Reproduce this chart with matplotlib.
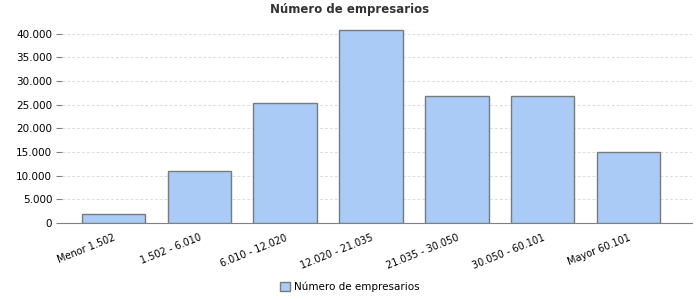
import matplotlib
import matplotlib.pyplot as plt
from matplotlib.ticker import FuncFormatter

matplotlib.use("Agg")

categories = [
    "Menor 1.502",
    "1.502 - 6.010",
    "6.010 - 12.020",
    "12.020 - 21.035",
    "21.035 - 30.050",
    "30.050 - 60.101",
    "Mayor 60.101",
]
empresarios = [1900, 10950, 25450, 40850, 26750, 26950, 14950]
series_name = "Número de empresarios"
title = "Número de empresarios"


def _miles(v, _pos):
    return f"{int(v):,}".replace(",", ".")


fig = plt.figure(figsize=(7, 3), dpi=100)
ax = fig.add_axes([0.0886, 0.257, 0.9, 0.668])

x = range(len(categories))
ax.bar(x, empresarios, width=0.74, color="#a9cbf5", edgecolor="#7a7a7a",
       linewidth=1.0, label=series_name, zorder=3)

ax.set_xlim(-0.6, 6.74)
ax.set_ylim(0, 42400)
ax.set_yticks(range(0, 40001, 5000))
ax.yaxis.set_major_formatter(FuncFormatter(_miles))
ax.set_xticks(list(x))
ax.set_xticklabels(categories, rotation=22, ha="right",
                   rotation_mode="anchor", fontsize=7)
ax.tick_params(axis="x", length=0, pad=7)
ax.tick_params(axis="y", length=4, color="#808080", labelsize=7.5,
               pad=3)

ax.grid(axis="y", color="#dddddd", linestyle=(0, (3, 2)), linewidth=0.7,
        zorder=0)
for side in ("top", "right", "left"):
    ax.spines[side].set_visible(False)
ax.spines["bottom"].set_color("#808080")

fig.suptitle(title, y=0.99, fontsize=8.5, fontweight="bold", color="#333333")
fig.legend(loc="center", bbox_to_anchor=(0.5, 0.043), frameon=False,
           fontsize=7.5, handlelength=0.9, handleheight=0.9,
           handletextpad=0.4)

fig.savefig("out.png", dpi=100)
